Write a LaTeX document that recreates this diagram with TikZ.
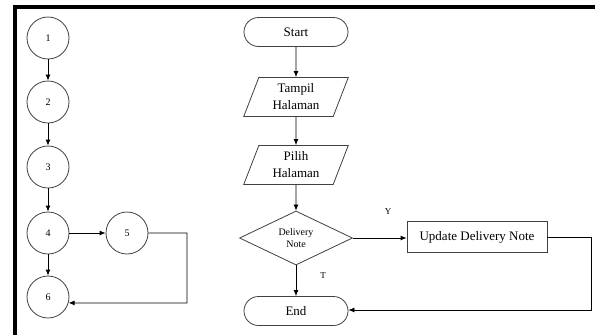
\documentclass[tikz,border=0pt]{standalone}
\usepackage{fontspec}
\setmainfont{Liberation Serif}
\usetikzlibrary{shapes.geometric,shapes.misc,arrows.meta}
\begin{document}
\begin{tikzpicture}[x=1pt,y=-1pt,
  numnode/.style={circle,draw=black!75,line width=0.8pt,minimum size=42pt,inner sep=0pt,font=\fontsize{10}{12}\selectfont},
  term/.style={rounded rectangle,draw=black!75,line width=0.8pt,minimum width=104pt,minimum height=29pt,inner sep=0pt,font=\fontsize{13}{15}\selectfont},
  io/.style={trapezium,trapezium left angle=70,trapezium right angle=110,trapezium stretches=true,draw=black!75,line width=0.8pt,minimum width=105pt,minimum height=39pt,inner sep=0pt,align=center,font=\fontsize{13}{17}\selectfont},
  decision/.style={diamond,draw=black!75,line width=0.8pt,minimum width=113pt,minimum height=54pt,inner sep=0pt,align=center,font=\fontsize{10}{12}\selectfont},
  process/.style={rectangle,draw=black!75,line width=0.8pt,minimum width=140pt,minimum height=31pt,inner sep=0pt,font=\fontsize{13}{15}\selectfont},
  flow/.style={draw=black,line width=0.8pt,-{Latex[length=6pt,width=5pt]}},
  tag/.style={font=\fontsize{9}{11}\selectfont}
]
\useasboundingbox (0,0) rectangle (595,335);
% frame
\draw[line width=4pt] (595,7) -- (15,7) -- (15,335);

% flow graph
\node[numnode] (c1) at (48,38) {1};
\node[numnode] (c2) at (48,102) {2};
\node[numnode] (c3) at (48,167) {3};
\node[numnode] (c4) at (48,233) {4};
\node[numnode] (c5) at (127,233) {5};
\node[numnode] (c6) at (48,297) {6};
\coordinate (k1) at (187,303);

\draw[flow] (c1) -- (c2);
\draw[flow] (c2) -- (c3);
\draw[flow] (c3) -- (c4);
\draw[flow] (c4) -- (c5);
\draw[flow] (c4) -- (c6);
\draw[flow] (c5.east) -| (k1) -- (c6.-16);

% flowchart
\node[term] (start) at (296,32) {Start};
\node[io] (tampil) at (296,97) {Tampil\\Halaman};
\node[io] (pilih) at (296,165) {Pilih\\Halaman};
\node[decision] (dec) at (296,238) {Delivery\\Note};
\node[process] (upd) at (477,237) {Update Delivery Note};
\node[term] (endn) at (296,311) {End};
\coordinate (k2) at (591,310);

\draw[flow] (start) -- (tampil);
\draw[flow] (tampil) -- (pilih);
\draw[flow] (pilih) -- (dec);
\draw[flow] (dec) -- (endn);
\draw[flow] (dec.east) -- (dec.east -| upd.west);
\draw[flow] (upd.east) -| (k2) -- (k2 -| endn.east);

\node[tag] (ylab) at (388,212) {Y};
\node[tag] (tlab) at (323,276) {T};
\end{tikzpicture}
\end{document}
